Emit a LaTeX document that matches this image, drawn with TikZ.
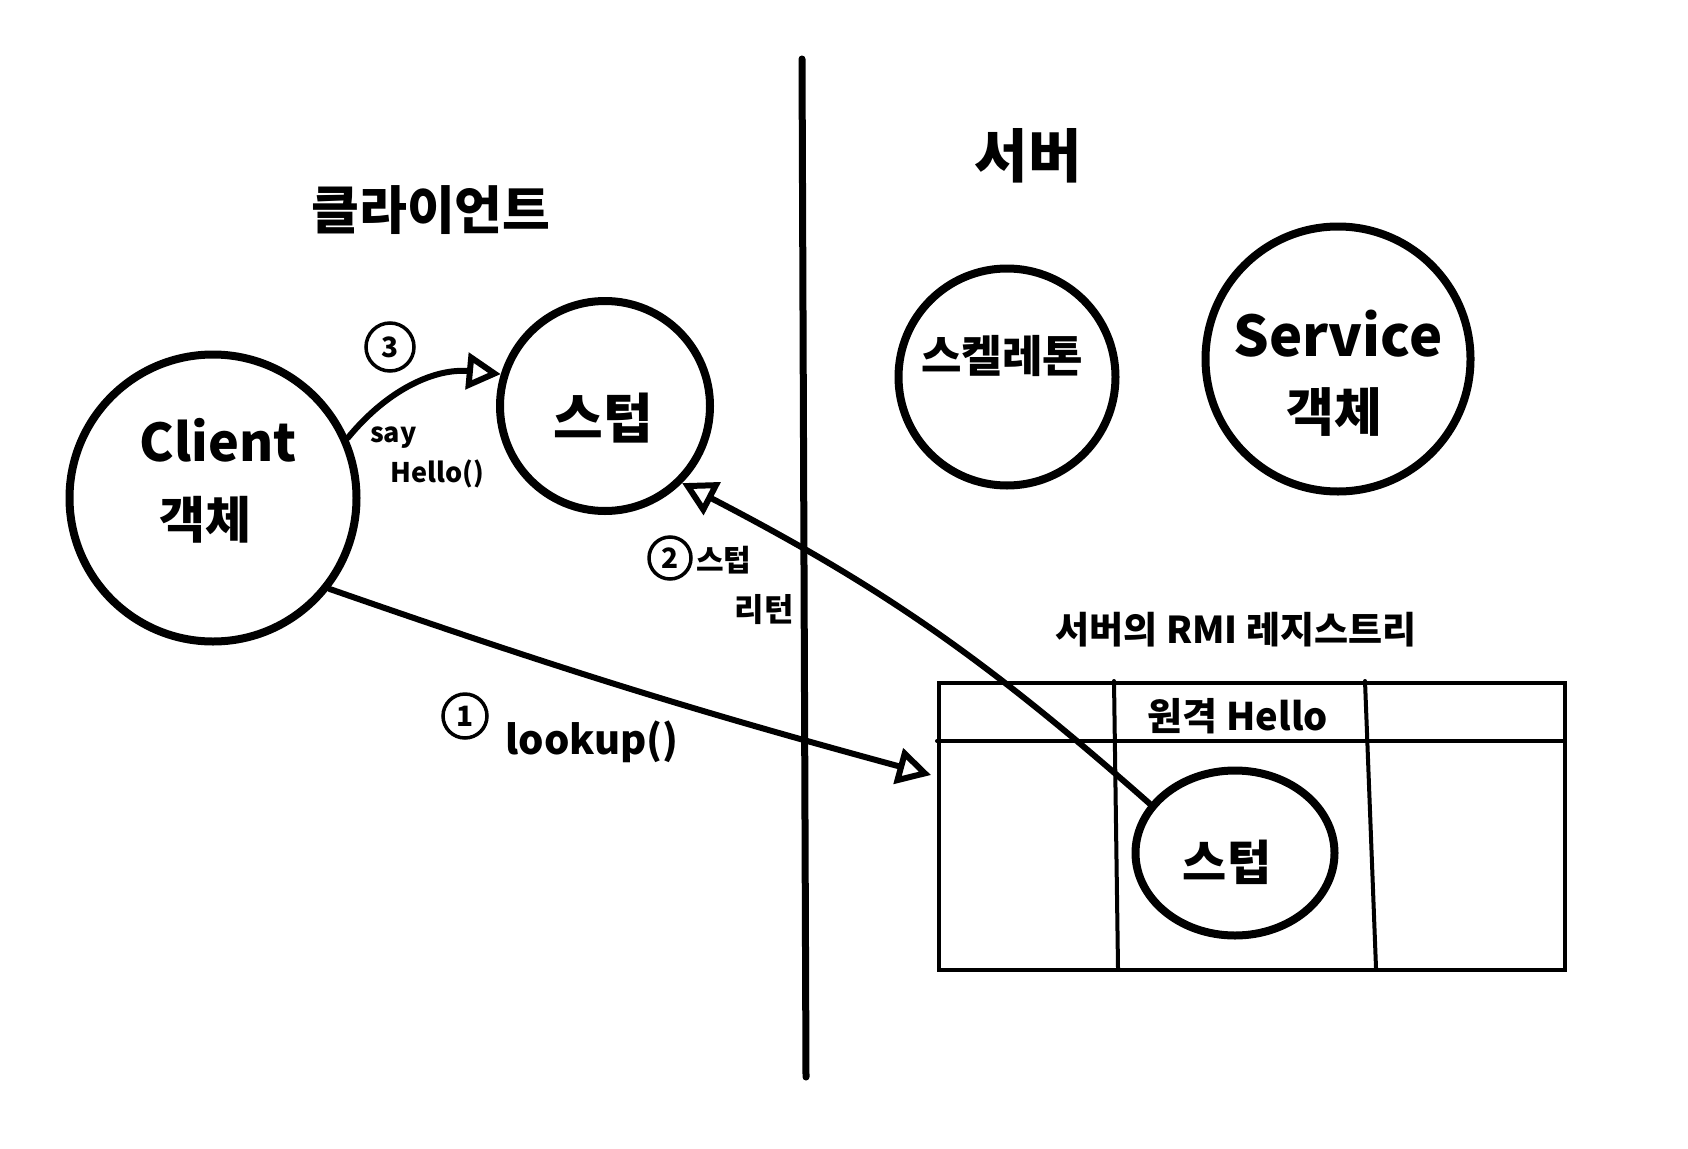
\documentclass[tikz,border=0pt]{standalone}
\usepackage{fontspec}
\setmainfont{Noto Sans CJK KR}
\usetikzlibrary{arrows.meta,shapes.geometric}
\begin{document}
\begin{tikzpicture}[x=1pt,y=-1pt,
  obj/.style={draw, circle, line width=8pt, inner sep=0pt, minimum size=#1},
  txt/.style={inner sep=0pt, font=\fontsize{#1}{#1}\selectfont\bfseries},
  num/.style={draw, circle, line width=3.5pt, inner sep=0pt, minimum size=#1, font=\fontsize{28}{28}\selectfont\bfseries},
  conn/.style={line width=6pt, line cap=round, -{Triangle[open, length=34pt, width=36pt]}},
  gridline/.style={line width=4pt, line cap=round}]
\useasboundingbox (0,0) rectangle (1688,1148);
\fill[white] (0,0) rectangle (1688,1148);

% divider
\coordinate (divTop) at (802,59);
\coordinate (divBot) at (806,1077);
\draw[line width=7pt, line cap=round] (divTop) -- (divBot);

% headings
\node[txt=52] (clientTitle) at (431,210) {클라이언트};
\node[txt=58] (serverTitle) at (1028,156) {서버};

% client side
\node[obj=287] (client) at (213,498) {};
\node[txt=52] (clientT1) at (218,440) {Client};
\node[txt=50] (clientT2) at (205,520) {객체};

\node[obj=210] (stub) at (605,406) {};
\node[txt=54] (stubT) at (603,418) {스텁};

% server side
\node[obj=217] (skel) at (1007,377) {};
\node[txt=44] (skelT) at (1002,356) {스켈레톤};

\node[obj=265] (svc) at (1338,359) {};
\node[txt=56] (svcT1) at (1338,334) {Service};
\node[txt=52] (svcT2) at (1334,412) {객체};

% registry
\node[txt=37] (regTitle) at (1236,630) {서버의 RMI 레지스트리};
\node[draw, rectangle, line width=4pt, inner sep=0pt, minimum width=626, minimum height=287, anchor=north west] (reg) at (937,681) {};
\coordinate (hlL) at (937,741);
\coordinate (hlR) at (1563,741);
\coordinate (c1T) at (1114,681);
\coordinate (c1B) at (1118,968);
\coordinate (c2T) at (1365,681);
\coordinate (c2B) at (1376,968);
\draw[gridline] (hlL) -- (hlR);
\draw[gridline] (c1T) -- (c1B);
\draw[gridline] (c2T) -- (c2B);
\node[txt=38] (remote) at (1238,716) {원격 Hello};

\node[draw, ellipse, line width=8pt, inner sep=0pt, minimum width=199, minimum height=165] (rstub) at (1235,853) {};
\node[txt=48] (rstubT) at (1227,862) {스텁};

% connectors
\coordinate (lookEnd) at (931,775);
\draw[conn] (client.-38) to[bend right=2] (lookEnd);
\draw[conn] (rstub.150) to[bend right=7] (stub.-45);
\draw[conn] (client.24) to[bend left=28] (stub.163);

% labels
\node[num=48] (n3) at (390,347) {3};
\node[txt=27, anchor=west] (sayT) at (370,438) {say};
\node[txt=27, anchor=west] (helloT) at (390,474) {Hello()};

\node[num=44] (n1) at (465,716) {1};
\node[txt=40] (lookT) at (592,742) {lookup()};

\node[num=42] (n2) at (670,558) {2};
\node[txt=30, anchor=west] (ret1) at (696,560) {스텁};
\node[txt=32] (ret2) at (764,610) {리턴};
\end{tikzpicture}
\end{document}
